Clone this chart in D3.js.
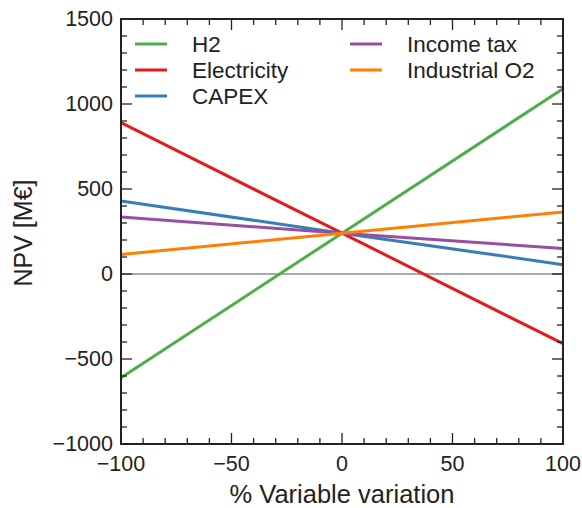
<!DOCTYPE html>
<html>
<head>
<meta charset="utf-8">
<script src="https://cdn.jsdelivr.net/npm/d3@7"></script>
<style>
  body { margin: 0; background: #fff; }
  svg { font-family: 'Liberation Sans', Arial, sans-serif; }
</style>
</head>
<body>
<svg id="chart"></svg>
<script>
const W = 582
const H = 508
const margin = { top: 19, left: 121, right: 19, bottom: 64 }
const width = W - margin.left - margin.right
const height = H - margin.top - margin.bottom

// data
const variation = [-100, 0, 100]
const seriesNames = ['H2', 'Electricity', 'CAPEX', 'Income tax', 'Industrial O2']
const h2 = [-610, 240, 1090]
const electricity = [890, 240, -410]
const capex = [430, 240, 55]
const incomeTax = [335, 240, 150]
const industrialO2 = [115, 240, 365]
const seriesValues = [h2, electricity, capex, incomeTax, industrialO2]
const xTicks = [-100, -50, 0, 50, 100]
const yTicks = [-1000, -500, 0, 500, 1000, 1500]

const colorList = ['#4daf4a', '#e41a1c', '#377eb8', '#984ea3', '#ff7f00']

const svg = d3.select('#chart').attr('width', W).attr('height', H)
const g = svg.append('g').attr('transform', `translate(${margin.left},${margin.top})`)

const x = d3.scaleLinear().domain([-100, 100]).range([0, width])
const y = d3.scaleLinear().domain([-1000, 1500]).range([height, 0])

const fmt = d => (d < 0 ? '\u2212' + Math.abs(d) : '' + d)

// zero line
g.append('line')
	.attr('x1', 0)
	.attr('x2', width)
	.attr('y1', y(0))
	.attr('y2', y(0))
	.attr('stroke', '#555')
	.attr('stroke-width', 1)

// series lines
const line = d3
	.line()
	.x((d, i) => x(variation[i]))
	.y(d => y(d))

seriesValues.forEach((vals, k) => {
	g.append('path')
		.datum(vals)
		.attr('d', line)
		.attr('fill', 'none')
		.attr('stroke', colorList[k])
		.attr('stroke-width', 3)
})

// ticks, inward on all sides
const majorLen = 11
const minorLen = 6
const xMinor = d3.range(-100, 101, 10).filter(v => !xTicks.includes(v))
const yMinor = d3.range(-1000, 1501, 100).filter(v => !yTicks.includes(v))
const tickG = g.append('g').attr('stroke', '#222').attr('stroke-width', 1.3)

function drawTicks(vals, len) {
	vals.forEach(v => {
		tickG.append('line').attr('x1', x(v)).attr('x2', x(v)).attr('y1', height).attr('y2', height - len)
		tickG.append('line').attr('x1', x(v)).attr('x2', x(v)).attr('y1', 0).attr('y2', len)
	})
}
function drawYTicks(vals, len) {
	vals.forEach(v => {
		tickG.append('line').attr('x1', 0).attr('x2', len).attr('y1', y(v)).attr('y2', y(v))
		tickG.append('line').attr('x1', width).attr('x2', width - len).attr('y1', y(v)).attr('y2', y(v))
	})
}
drawTicks(xTicks, majorLen)
drawTicks(xMinor, minorLen)
drawYTicks(yTicks, majorLen)
drawYTicks(yMinor, minorLen)

// frame
g.append('rect')
	.attr('width', width)
	.attr('height', height)
	.attr('fill', 'none')
	.attr('stroke', '#222')
	.attr('stroke-width', 2)

// tick labels
g.selectAll('.xlab')
	.data(xTicks)
	.enter()
	.append('text')
	.attr('x', d => x(d))
	.attr('y', height + 27)
	.attr('text-anchor', 'middle')
	.attr('font-size', 21.5)
	.attr('fill', '#222')
	.text(fmt)

g.selectAll('.ylab')
	.data(yTicks)
	.enter()
	.append('text')
	.attr('x', -8)
	.attr('y', d => y(d) + 7)
	.attr('text-anchor', 'end')
	.attr('font-size', 21.5)
	.attr('fill', '#222')
	.text(fmt)

// axis titles
svg.append('text')
	.attr('x', margin.left + width / 2)
	.attr('y', 503)
	.attr('text-anchor', 'middle')
	.attr('font-size', 25.5)
	.attr('fill', '#222')
	.text('% Variable variation')

svg.append('text')
	.attr('transform', `translate(32, 233) rotate(-90)`)
	.attr('text-anchor', 'middle')
	.attr('font-size', 25)
	.attr('fill', '#222')
	.text('NPV [M€]')

// legend
const legendPos = [
	[135, 44],
	[135, 70],
	[135, 96],
	[350, 44],
	[350, 70]
]
seriesNames.forEach((name, k) => {
	const [lx, ly] = legendPos[k]
	svg.append('line')
		.attr('x1', lx)
		.attr('x2', lx + 32)
		.attr('y1', ly)
		.attr('y2', ly)
		.attr('stroke', colorList[k])
		.attr('stroke-width', 3)
	svg.append('text')
		.attr('x', lx + 57)
		.attr('y', ly + 8)
		.attr('font-size', 22.5)
		.attr('fill', '#222')
		.text(name)
})
</script>
</body>
</html>
